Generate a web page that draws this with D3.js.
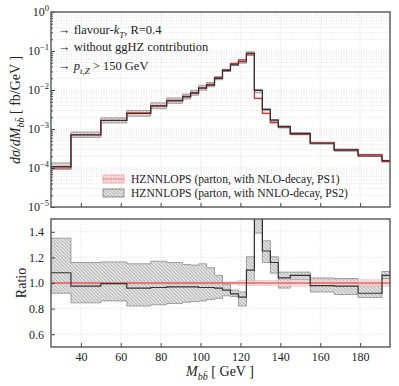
<!DOCTYPE html>
<html>
<head>
<meta charset="utf-8">
<script src="https://cdn.jsdelivr.net/npm/d3@7"></script>
<style>
body { margin: 0; background: #fff; }
text { font-family: "Liberation Serif", "DejaVu Serif", serif; fill: #222; }
</style>
</head>
<body>
<svg id="chart" width="399" height="386"></svg>
<script>
// bin edges in GeV
var binEdges = [25, 35, 50, 63, 75, 83, 91, 95, 99, 103, 107, 111, 115, 119, 123, 127, 131, 135, 139, 145, 155, 167, 179, 191, 195];
// PS1 (NLO decay) central values, fb/GeV
var nloValues = [1.0e-4, 7.2e-4, 1.66e-3, 2.6e-3, 4.0e-3, 5.4e-3, 6.9e-3, 8.6e-3, 1.15e-2, 1.39e-2, 2.08e-2, 3.32e-2, 4.8e-2, 5.95e-2, 7.9e-2, 6.1e-3, 2.53e-3, 1.45e-3, 1.11e-3, 7.3e-4, 4.4e-4, 2.96e-4, 2.21e-4, 1.45e-4];
// PS1 scale band half width (relative)
var nloBand = [0.006, 0.006, 0.006, 0.006, 0.006, 0.006, 0.006, 0.006, 0.006, 0.006, 0.006, 0.008, 0.01, 0.02, 0.02, 0.02, 0.02, 0.02, 0.025, 0.025, 0.025, 0.025, 0.025, 0.025];
// PS2 (NNLO decay) / PS1
var ratioValues = [1.08, 0.975, 0.995, 0.96, 0.965, 0.97, 0.97, 0.97, 0.965, 0.965, 0.96, 0.945, 0.915, 0.89, 1.10, 1.6, 1.25, 1.16, 1.04, 1.06, 0.98, 0.975, 0.92, 1.06];
var ratioLow = [0.92, 0.845, 0.86, 0.82, 0.83, 0.84, 0.85, 0.855, 0.86, 0.87, 0.88, 0.90, 0.895, 0.82, 1.0, 1.39, 1.16, 1.077, 0.96, 1.027, 0.93, 0.91, 0.886, 1.035];
var ratioHigh = [1.35, 1.16, 1.165, 1.15, 1.17, 1.16, 1.145, 1.14, 1.15, 1.12, 1.06, 0.99, 0.945, 0.93, 1.205, 1.7, 1.33, 1.205, 1.085, 1.085, 1.04, 1.035, 0.987, 1.09];

var massTicks = [40, 60, 80, 100, 120, 140, 160, 180];
var logTicks = [1, 1e-1, 1e-2, 1e-3, 1e-4, 1e-5];
var logTickExp = ["0", "\u22121", "\u22122", "\u22123", "\u22124", "\u22125"];
var ratioTicks = [0.6, 0.8, 1.0, 1.2, 1.4];
var seriesNames = ["HZNNLOPS (parton, with NLO-decay, PS1)", "HZNNLOPS (parton, with NNLO-decay, PS2)"];

var serif = "'Liberation Serif', 'DejaVu Serif', serif";
var svg = d3.select("#chart");
var x = d3.scaleLinear().domain([25, 195]).range([51, 390]);
var yTop = d3.scaleLog().domain([1e-5, 1]).range([207, 12]);
var yRat = d3.scaleLinear().domain([0.5, 1.5]).range([347, 219]);

var defs = svg.append("defs");
function hatch(id, bg, fg) {
	var p = defs.append("pattern").attr("id", id)
		.attr("patternUnits", "userSpaceOnUse").attr("width", 3.5).attr("height", 3.5);
	p.append("rect").attr("width", 3.5).attr("height", 3.5).attr("fill", bg);
	p.append("path").attr("d", "M0,0L3.5,3.5M-1,2.5L1,4.5M2.5,-1L4.5,1")
		.attr("stroke", fg).attr("stroke-width", 0.7);
}
hatch("hGrey", "#e4e4e4", "#8a8a8a");
hatch("hRed", "#fde3e3", "#f19a9a");
defs.append("clipPath").attr("id", "clipTop").append("rect")
	.attr("x", 51).attr("y", 12).attr("width", 339).attr("height", 195);
defs.append("clipPath").attr("id", "clipRat").append("rect")
	.attr("x", 51).attr("y", 219).attr("width", 339).attr("height", 128);

// expand bins to step points
function steps(f) {
	var pts = [];
	for (var i = 0; i < binEdges.length - 1; i++) {
		var v = f(i);
		pts.push({x: binEdges[i], lo: v[0], hi: v[1], v: v[2]});
		pts.push({x: binEdges[i + 1], lo: v[0], hi: v[1], v: v[2]});
	}
	return pts;
}
var topRed = steps(function(i) { var c = nloValues[i]; return [c * (1 - nloBand[i]), c * (1 + nloBand[i]), c]; });
var topBlack = steps(function(i) { var c = nloValues[i]; return [c * ratioLow[i], c * ratioHigh[i], c * ratioValues[i]]; });
var ratRed = steps(function(i) { return [1 - nloBand[i], 1 + nloBand[i], 1]; });
var ratBlack = steps(function(i) { return [ratioLow[i], ratioHigh[i], ratioValues[i]]; });

function gridLines(g, xs, ys, y0, y1, yScale) {
	g.selectAll(".gv").data(xs).enter().append("line")
		.attr("x1", function(d) { return x(d); }).attr("x2", function(d) { return x(d); })
		.attr("y1", y0).attr("y2", y1);
	g.selectAll(".gh").data(ys).enter().append("line")
		.attr("x1", 51).attr("x2", 390)
		.attr("y1", function(d) { return yScale(d); }).attr("y2", function(d) { return yScale(d); });
	g.selectAll("line").attr("stroke", "#cfcfcf").attr("stroke-width", 0.6).attr("stroke-dasharray", "1,1.5");
}

var minorLog = [];
for (var e = -5; e < 0; e++) for (var m = 1; m < 10; m++) minorLog.push(m * Math.pow(10, e));
gridLines(svg.append("g"), massTicks, minorLog, 12, 207, yTop);
gridLines(svg.append("g"), massTicks, ratioTicks, 219, 347, yRat);

function drawPanel(clip, yScale, red, black) {
	var g = svg.append("g").attr("clip-path", "url(#" + clip + ")");
	var area = d3.area().x(function(d) { return x(d.x); })
		.y0(function(d) { return yScale(d.lo); }).y1(function(d) { return yScale(d.hi); });
	var line = d3.line().x(function(d) { return x(d.x); }).y(function(d) { return yScale(d.v); });
	g.append("path").attr("d", area(black)).attr("fill", "url(#hGrey)")
		.attr("stroke", "#8c8c8c").attr("stroke-width", 0.8);
	g.append("path").attr("d", area(red)).attr("fill", "url(#hRed)").attr("fill-opacity", 0.75)
		.attr("stroke", "#f3a0a0").attr("stroke-width", 0.5);
	g.append("path").attr("d", line(red)).attr("fill", "none")
		.attr("stroke", "#dd2b2b").attr("stroke-width", 1.2);
	g.append("path").attr("d", line(black)).attr("fill", "none")
		.attr("stroke", "#333").attr("stroke-width", 1.2);
}
drawPanel("clipTop", yTop, topRed, topBlack);
drawPanel("clipRat", yRat, ratRed, ratBlack);

// axes with inward ticks
var fmtNone = function() { return ""; };
svg.append("g").attr("transform", "translate(0,207)")
	.call(d3.axisBottom(x).tickValues(massTicks).tickSizeInner(-4).tickSizeOuter(0).tickFormat(fmtNone));
svg.append("g").attr("transform", "translate(51,0)")
	.call(d3.axisLeft(yTop).tickValues(logTicks).tickSizeInner(-4).tickSizeOuter(0).tickFormat(fmtNone));
svg.append("g").attr("transform", "translate(51,0)")
	.call(d3.axisLeft(yTop).tickValues(minorLog.filter(function(d, i) { return i % 9 != 0; }))
		.tickSizeInner(-2).tickSizeOuter(0).tickFormat(fmtNone));
svg.append("g").attr("transform", "translate(0,347)")
	.call(d3.axisBottom(x).tickValues(massTicks).tickSizeInner(-4).tickSizeOuter(0)
		.tickPadding(5).tickFormat(d3.format("d")));
svg.append("g").attr("transform", "translate(51,0)")
	.call(d3.axisLeft(yRat).tickValues(ratioTicks).tickSizeInner(-4).tickSizeOuter(0)
		.tickPadding(7).tickFormat(d3.format(".1f")));
svg.selectAll(".domain").remove();
svg.selectAll(".tick line").attr("stroke", "#333").attr("stroke-width", 0.9);
svg.selectAll(".tick").each(function() { d3.select(this.parentNode).attr("font-family", serif); });
svg.selectAll(".tick text").attr("font-size", 12).attr("fill", "#333");

// log tick labels 10^n
var lt = svg.append("g").selectAll("text").data(logTicks).enter().append("text")
	.attr("x", 49).attr("y", function(d) { return yTop(d) + 4; })
	.attr("text-anchor", "end").attr("font-size", 12).attr("fill", "#333");
lt.append("tspan").text("10");
lt.append("tspan").attr("dy", -5).attr("font-size", 8.5).text(function(d, i) { return logTickExp[i]; });

// frames
[[12, 195], [219, 128]].forEach(function(r) {
	svg.append("rect").attr("x", 51).attr("y", r[0]).attr("width", 339).attr("height", r[1])
		.attr("fill", "none").attr("stroke", "#555").attr("stroke-width", 1.4);
});

// annotations
function rich(g, parts, size) {
	parts.forEach(function(p) {
		var t = g.append("tspan").text(p[0]);
		if (p[1] == "i") t.attr("font-style", "italic");
		if (p[2] == "sub") t.attr("font-size", size * 0.72).attr("dy", size * 0.28);
		if (p[2] == "up") t.attr("dy", -size * 0.28);
	});
	return g;
}
var ann = svg.append("g").attr("font-size", 12.5);
rich(ann.append("text").attr("x", 58).attr("y", 34), [["\u2192 flavour-"], ["k", "i"], ["T", "i", "sub"], [", R=0.4", "", "up"]], 12.5);
ann.append("text").attr("x", 58).attr("y", 51).text("\u2192 without ggHZ contribution");
rich(ann.append("text").attr("x", 58).attr("y", 70), [["\u2192 "], ["p", "i"], ["t,Z", "i", "sub"], [" > 150 GeV", "", "up"]], 12.5);

// legend
var legY = [179, 193];
var legFill = ["url(#hRed)", "url(#hGrey)"];
var legStroke = ["#f3a0a0", "#777"];
var legLine = ["#dd2b2b", null];
seriesNames.forEach(function(name, i) {
	svg.append("rect").attr("x", 103).attr("y", legY[i] - 4).attr("width", 21).attr("height", 8)
		.attr("fill", legFill[i]).attr("stroke", legStroke[i]).attr("stroke-width", 0.8);
	if (legLine[i]) svg.append("line").attr("x1", 103).attr("x2", 124).attr("y1", legY[i]).attr("y2", legY[i])
		.attr("stroke", legLine[i]).attr("stroke-width", 0.8).attr("stroke-dasharray", "1.5,1");
	svg.append("text").attr("x", 131).attr("y", legY[i] + 4).attr("font-size", 11.6).text(name);
});

// axis titles
rich(svg.append("text").attr("transform", "translate(20,110)rotate(-90)").attr("text-anchor", "middle").attr("font-size", 14),
	[["d\u03c3/dM", "i"], ["bb\u0304", "i", "sub"], [" [ fb/GeV ]", "", "up"]], 14);
svg.append("text").attr("transform", "translate(26,283)rotate(-90)").attr("text-anchor", "middle")
	.attr("font-size", 14).text("Ratio");
rich(svg.append("text").attr("x", 220).attr("y", 376).attr("text-anchor", "middle").attr("font-size", 14),
	[["M", "i"], ["bb\u0304", "i", "sub"], [" [ GeV ]", "", "up"]], 14);
</script>
</body>
</html>
